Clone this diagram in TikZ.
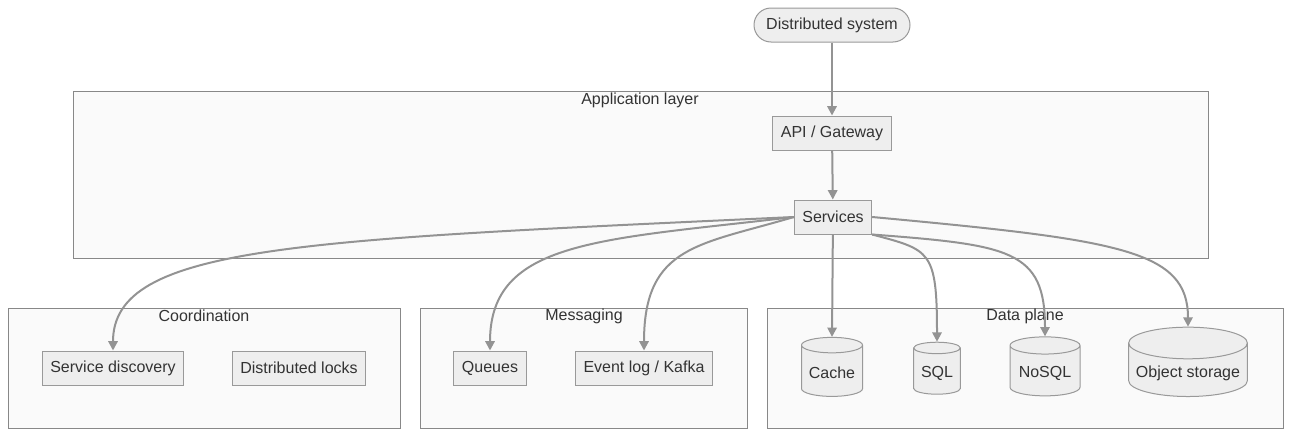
\documentclass[tikz,border=0pt]{standalone}
\usepackage{fontspec}
\setmainfont{Liberation Sans}
\usetikzlibrary{shapes.geometric,arrows.meta}
\definecolor{nodefill}{HTML}{EEEEEE}
\definecolor{nodeline}{HTML}{999999}
\definecolor{clusterfill}{HTML}{FAFAFA}
\definecolor{clusterline}{HTML}{888888}
\definecolor{edgeline}{HTML}{939393}
\definecolor{txt}{HTML}{333333}
\begin{document}
\begin{tikzpicture}[x=0.75pt,y=-0.75pt,
  font=\fontsize{12}{14}\selectfont, text=txt,
  box/.style={draw=nodeline, fill=nodefill, line width=0.75pt, minimum height=25.5pt, inner xsep=6pt},
  db/.style={cylinder, shape border rotate=90, aspect=0.28, draw=nodeline, fill=nodefill, line width=0.75pt},
  cluster/.style={draw=clusterline, fill=clusterfill, line width=0.6pt},
  edge/.style={draw=edgeline, line width=1.5pt, -{Triangle[length=7pt,width=7pt]}}]
\useasboundingbox (0,0) rectangle (1299,439);

% clusters
\draw[cluster] (73,91) rectangle (1208,258);
\node at (640,100) {Application layer};
\draw[cluster] (8,308) rectangle (400,428);
\node at (204,316) {Coordination};
\draw[cluster] (420,308) rectangle (747,428);
\node at (584,316) {Messaging};
\draw[cluster] (767,308) rectangle (1283,428);
\node at (1025,316) {Data plane};

% nodes
\node[box, rounded corners=12.75pt, minimum width=117pt] (sys) at (832,25) {Distributed system};
\node[box] (api) at (832,133) {API / Gateway};
\node[box] (svc) at (833,217) {Services};
\node[box] (sd) at (113,368) {Service discovery};
\node[box] (locks) at (299,368) {Distributed locks};
\node[box] (queues) at (490,368) {Queues};
\node[box] (kafka) at (644,368) {Event log / Kafka};
\node[db, minimum width=45.75pt, minimum height=44.25pt] (cache) at (832,373) {Cache};
\node[db, minimum width=35pt, minimum height=39pt] (sql) at (937,373) {SQL};
\node[db, minimum width=52.5pt, minimum height=44.25pt] (nosql) at (1045,373) {NoSQL};
\node[db, minimum width=89pt, minimum height=52pt] (obj) at (1188,373) {Object storage};

% connectors
\draw[edge] (sys) -- (api);
\draw[edge] (api) -- (svc);
\draw[edge] (svc.west) .. controls (300,240) and (113,245) .. (sd.north);
\draw[edge] (svc.west) .. controls (600,240) and (490,240) .. (queues.north);
\draw[edge] (svc.west) .. controls (700,245) and (644,245) .. (kafka.north);
\draw[edge] (svc) -- (cache.north);
\draw[edge] (svc.south east) .. controls (930,250) and (937,250) .. (sql.north);
\draw[edge] (svc.south east) .. controls (1010,245) and (1045,250) .. (nosql.north);
\draw[edge] (svc.east) .. controls (1120,240) and (1188,250) .. (obj.north);
\end{tikzpicture}
\end{document}
